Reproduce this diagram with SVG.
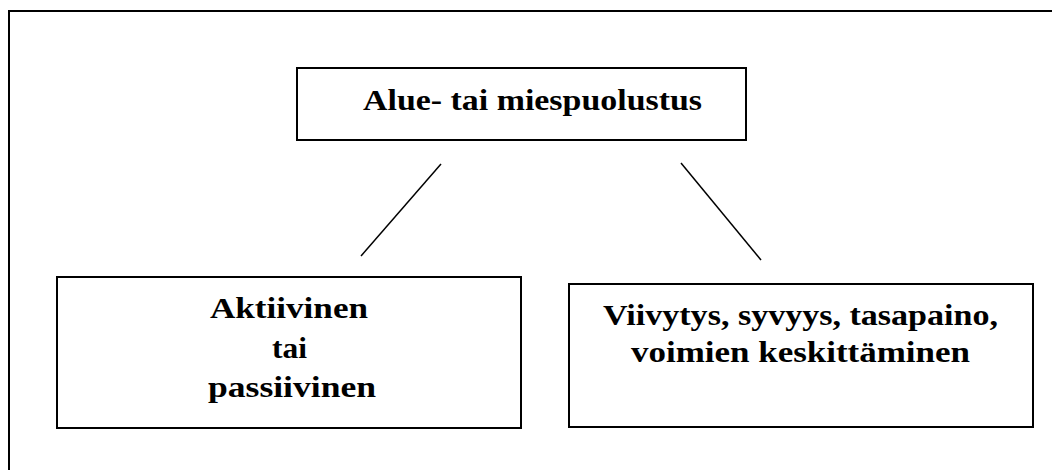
<svg xmlns="http://www.w3.org/2000/svg" width="1052" height="470" viewBox="0 0 1052 470">
  <style>
    .frame { fill: none; stroke: #000; stroke-width: 2; }
    .box { fill: #fff; stroke: #000; stroke-width: 2; }
    .link { stroke: #000; stroke-width: 1.5; fill: none; }
    .label { font-family: "Liberation Serif", "Times New Roman", serif; font-weight: bold; font-size: 29px; fill: #000; }
  </style>
  <rect width="1052" height="470" fill="#fff"/>
  <!-- outer frame, running off the right and bottom edges -->
  <path class="frame" d="M9,480 V11 H1060"/>

  <g id="connectors">
    <line class="link" x1="441" y1="164" x2="361" y2="256"/>
    <line class="link" x1="681" y1="163" x2="761" y2="260"/>
  </g>

  <g id="node-top">
    <rect class="box" x="297" y="68" width="449" height="72"/>
    <text class="label" x="363" y="110" textLength="339" lengthAdjust="spacingAndGlyphs">Alue- tai miespuolustus</text>
  </g>

  <g id="node-left">
    <rect class="box" x="57" y="277" width="464" height="151"/>
    <text class="label" x="210" y="318" textLength="158" lengthAdjust="spacingAndGlyphs">Aktiivinen</text>
    <text class="label" x="272" y="358" textLength="35" lengthAdjust="spacingAndGlyphs">tai</text>
    <text class="label" x="208" y="397" textLength="168" lengthAdjust="spacingAndGlyphs">passiivinen</text>
  </g>

  <g id="node-right">
    <rect class="box" x="569" y="284" width="464" height="143"/>
    <text class="label" x="603" y="325" textLength="395" lengthAdjust="spacingAndGlyphs">Viivytys, syvyys, tasapaino,</text>
    <text class="label" x="631" y="362" textLength="339" lengthAdjust="spacingAndGlyphs">voimien keskittäminen</text>
  </g>
</svg>
